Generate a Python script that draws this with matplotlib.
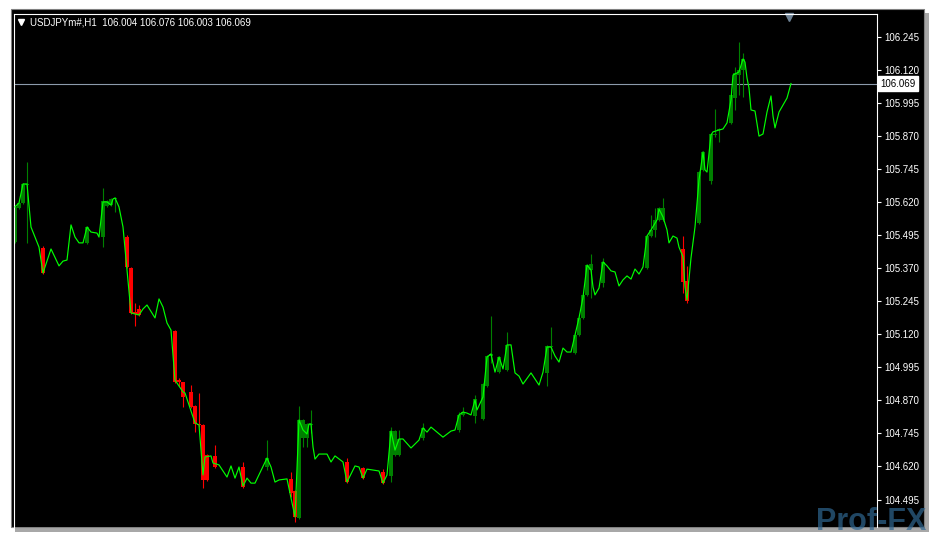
import matplotlib
matplotlib.use('Agg')
import matplotlib.pyplot as plt
import matplotlib.transforms as mtransforms
from matplotlib.patches import Rectangle

# Data: USDJPY H1, close line (turning points) and highlighted candles
line_bar = [0, 1, 2, 3, 4, 6, 7, 9, 11, 12, 13, 14, 15, 16, 17, 18, 19, 20.5, 21, 22,
            23, 24, 24.5, 25, 26, 27, 28, 29, 31, 32, 33, 35, 36, 37, 38, 39, 40, 42, 42.5, 45,
            46, 47, 47.5, 49, 49.5, 51, 53, 54, 55, 56, 57, 58, 59, 60, 63, 64, 65, 66, 68, 70,
            71, 72, 73, 73.5, 74, 74.5, 75, 76, 78, 79, 80, 82, 83, 85, 86, 87, 88, 91, 92, 93,
            94, 95, 96, 97, 99, 101, 102, 103, 104, 105.5, 107, 109, 110, 111, 112, 113, 114, 115, 115.5, 117,
            118, 119, 120, 121, 122, 123, 124, 125, 126, 127, 129, 131, 132, 133, 134, 135, 136, 137, 138, 139,
            140, 141, 142, 143, 144, 144.5, 145, 146, 147, 148, 149, 150, 151, 152, 153, 154, 155, 156, 157, 158,
            159, 160.5, 161, 162, 163, 163.5, 164.5, 165.5, 166, 167, 167.5, 168, 169, 170, 171, 172, 172.5, 173, 174, 174.5,
            176, 177, 178, 179, 179.5, 181, 182, 182.5, 183, 183.5, 184, 185, 186, 187, 188, 189, 189.5, 190, 191, 193,
            194]
line_price = [105.602, 105.617, 105.689, 105.689, 105.526, 105.450, 105.352, 105.443, 105.379, 105.397,
              105.401, 105.534, 105.488, 105.466, 105.466, 105.526, 105.507, 105.503, 105.488, 105.621,
              105.621, 105.609, 105.632, 105.636, 105.602, 105.526, 105.363, 105.201, 105.193, 105.216,
              105.231, 105.182, 105.254, 105.223, 105.163, 105.136, 104.947, 104.902, 104.898, 104.785,
              104.777, 104.588, 104.656, 104.660, 104.633, 104.626, 104.580, 104.622, 104.576, 104.618,
              104.546, 104.576, 104.557, 104.557, 104.652, 104.618, 104.561, 104.569, 104.573, 104.429,
              104.796, 104.758, 104.743, 104.781, 104.781, 104.694, 104.648, 104.667, 104.667, 104.637,
              104.660, 104.637, 104.561, 104.622, 104.618, 104.576, 104.610, 104.603, 104.557, 104.588,
              104.754, 104.682, 104.724, 104.724, 104.690, 104.720, 104.766, 104.750, 104.769, 104.750,
              104.731, 104.754, 104.758, 104.815, 104.826, 104.822, 104.815, 104.872, 104.834, 104.883,
              105.034, 105.046, 104.977, 105.034, 104.989, 105.080, 105.080, 104.974, 104.962, 104.932,
              104.974, 104.928, 104.977, 105.072, 105.072, 105.038, 105.015, 105.068, 105.053, 105.053,
              105.118, 105.182, 105.260, 105.382, 105.363, 105.299, 105.269, 105.295, 105.394, 105.379,
              105.360, 105.356, 105.303, 105.326, 105.341, 105.329, 105.367, 105.348, 105.375, 105.492,
              105.515, 105.553, 105.594, 105.564, 105.515, 105.466, 105.492, 105.484, 105.450, 105.413,
              105.299, 105.250, 105.409, 105.526, 105.704, 105.810, 105.742, 105.734, 105.874, 105.886,
              105.893, 105.897, 105.920, 106.007, 106.101, 106.113, 106.162, 106.150, 106.090, 106.052,
              105.969, 105.965, 105.870, 105.878, 105.961, 106.022, 105.946, 105.901, 105.961, 106.014,
              106.069]

candle_bar = [0, 1, 2, 3, 7, 18, 22, 23, 24, 25, 28, 29, 30, 31, 40, 41, 42, 44, 45, 46,
              47, 48, 50, 57, 63, 69, 70, 71, 72, 73, 74, 83, 87, 92, 94, 95, 96, 102, 111, 112,
              115, 117, 118, 119, 121, 123, 133, 134, 140, 141, 142, 143, 144, 147, 158, 159, 160, 161, 162, 167,
              168, 171, 172, 174, 175, 176, 179, 180, 181, 182]
candle_open = [105.469, 105.598, 105.617, 105.686, 105.447, 105.466, 105.488, 105.605, 105.609, 105.632,
               105.488, 105.371, 105.205, 105.216, 105.133, 104.947, 104.940, 104.902, 104.849, 104.781,
               104.777, 104.663, 104.660, 104.618, 104.618, 104.573, 104.527, 104.425, 104.728, 104.728,
               104.777, 104.637, 104.614, 104.599, 104.584, 104.663, 104.663, 104.728, 104.758, 104.815,
               104.811, 104.800, 104.925, 105.038, 104.977, 104.985, 104.974, 105.072, 105.049, 105.118,
               105.182, 105.269, 105.363, 105.314, 105.371, 105.492, 105.515, 105.553, 105.553, 105.443,
               105.322, 105.541, 105.742, 105.700, 105.874, 105.893, 105.920, 106.014, 106.101, 106.120]
candle_close = [105.602, 105.617, 105.689, 105.689, 105.352, 105.526, 105.625, 105.625, 105.632, 105.636,
                105.375, 105.201, 105.197, 105.193, 104.940, 104.940, 104.883, 104.845, 104.781, 104.777,
                104.569, 104.569, 104.618, 104.542, 104.652, 104.520, 104.429, 104.796, 104.796, 104.781,
                104.781, 104.561, 104.576, 104.557, 104.754, 104.754, 104.724, 104.766, 104.815, 104.826,
                104.875, 104.932, 105.038, 105.046, 105.034, 105.080, 105.076, 105.076, 105.118, 105.182,
                105.269, 105.382, 105.386, 105.394, 105.492, 105.515, 105.553, 105.598, 105.598, 105.318,
                105.246, 105.734, 105.810, 105.878, 105.878, 105.897, 106.026, 106.109, 106.120, 106.162]
candle_high = [105.610, 105.620, 105.692, 105.772, 105.454, 105.530, 105.674, 105.628, 105.636, 105.640,
               105.496, 105.375, 105.238, 105.231, 105.136, 104.955, 104.940, 104.928, 104.852, 104.898,
               104.780, 104.667, 104.701, 104.637, 104.720, 104.599, 104.530, 104.849, 104.800, 104.785,
               104.834, 104.652, 104.618, 104.610, 104.769, 104.758, 104.758, 104.785, 104.826, 104.845,
               104.890, 104.936, 105.042, 105.190, 105.038, 105.129, 105.080, 105.148, 105.122, 105.186,
               105.273, 105.386, 105.424, 105.409, 105.496, 105.572, 105.598, 105.602, 105.636, 105.492,
               105.379, 105.738, 105.814, 105.882, 105.973, 105.900, 106.030, 106.131, 106.226, 106.184]
candle_low = [105.465, 105.595, 105.612, 105.466, 105.348, 105.460, 105.450, 105.600, 105.605, 105.583,
              105.370, 105.197, 105.152, 105.189, 104.936, 104.925, 104.845, 104.840, 104.750, 104.769,
              104.538, 104.565, 104.614, 104.538, 104.607, 104.505, 104.410, 104.422, 104.694, 104.694,
              104.746, 104.557, 104.572, 104.553, 104.561, 104.660, 104.660, 104.720, 104.750, 104.811,
              104.785, 104.796, 104.920, 105.011, 104.973, 104.981, 104.925, 105.027, 105.045, 105.114,
              105.178, 105.265, 105.257, 105.299, 105.367, 105.488, 105.488, 105.549, 105.549, 105.277,
              105.238, 105.537, 105.738, 105.689, 105.867, 105.848, 105.916, 105.969, 106.026, 106.018]

price_ticks = [104.495, 104.620, 104.745, 104.870, 104.995, 105.120, 105.245, 105.370,
               105.495, 105.620, 105.745, 105.870, 105.995, 106.120, 106.245]
last_price = 106.069
header = 'USDJPYm#,H1  106.004 106.076 106.003 106.069'

W, H = 936, 538
UP = '#008000'
DOWN = '#ff0000'
LINE = '#00ff00'

fig = plt.figure(figsize=(W / 100, H / 100), dpi=100, facecolor='white')

# window shadow + black panel
fig.patches.append(Rectangle((15 / W, 1 - 532 / H), 914 / W, 519 / H, transform=fig.transFigure,
                             facecolor='#a8a8a8', edgecolor='none', zorder=0))
fig.patches.append(Rectangle((11 / W, 1 - 527 / H), 913 / W, 518 / H, transform=fig.transFigure,
                             facecolor='black', edgecolor='#808080', lw=0.8, zorder=0.5))

ax = fig.add_axes([14 / W, 1 - 527 / H, 863 / W, 513 / H])
ax.set_zorder(2)
ax.set_facecolor('black')
ax.set_xlim(-0.25, 215.5)
ax.set_ylim(104.391, 106.332)

# candles
for b, o, c, hi, lo in zip(candle_bar, candle_open, candle_close, candle_high, candle_low):
    col = UP if c >= o else DOWN
    ax.vlines(b, lo, hi, color=col, lw=0.8, zorder=2)
    ax.bar(b, max(abs(c - o), 0.003), bottom=min(o, c), width=0.9, color=col, lw=0, zorder=2)

ax.plot(line_bar, line_price, color=LINE, lw=0.85, zorder=3)

ax.axhline(last_price, color='#8c9aab', lw=0.8, zorder=1)

# axes styling
for side in ['left', 'top', 'right']:
    ax.spines[side].set_color('white')
    ax.spines[side].set_linewidth(0.8)
ax.spines['bottom'].set_visible(False)
ax.set_xticks([])
ax.yaxis.tick_right()
ax.set_yticks(price_ticks)
ax.set_yticklabels(['%.3f' % p for p in price_ticks])
ax.tick_params(axis='y', colors='white', length=3, width=0.8, pad=2, labelsize=7)
for lbl in ax.get_yticklabels():
    lbl.set_fontfamily('Liberation Sans')

blend = mtransforms.blended_transform_factory(ax.transAxes, ax.transData)
ax.annotate('%.3f' % last_price, xy=(1.0, last_price), xycoords=blend,
            xytext=(2.5, 0), textcoords='offset points', ha='left', va='center',
            fontsize=7, family='Liberation Sans', color='black', annotation_clip=False,
            bbox=dict(boxstyle='square,pad=0.22', facecolor='white', edgecolor='white'))

# header
ax.plot([0.0085], [0.984], marker='v', color='white', ms=4, transform=ax.transAxes, clip_on=False)
ax.text(0.019, 0.984, header, transform=ax.transAxes, ha='left', va='center',
        color='white', fontsize=7, family='Liberation Sans')

# chart shift marker
ax.plot([0.8986], [0.994], marker='v', color='#6f8396', ms=6, transform=ax.transAxes, clip_on=False)

# watermark
wm = fig.text(816 / W, 1 - 537 / H, 'Prof-FX', ha='left', va='bottom', fontsize=22,
              fontweight='bold', family='Liberation Sans', color='#2f6690', alpha=0.7)
wm.set_zorder(5)

fig.savefig('out.png', dpi=100, facecolor='white')
